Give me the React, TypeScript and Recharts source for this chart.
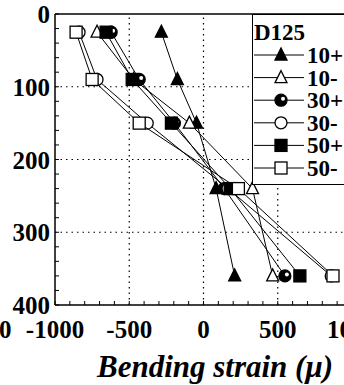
import React from 'react';
import { Legend, ReferenceLine, Scatter, ScatterChart, XAxis, YAxis } from 'recharts';

const DEPTHS = [25, 90, 150, 240, 360];

const STRAIN_10P = [-284, -176, -47, 85, 210];
const STRAIN_10M = [-717, -470, -95, 330, 466];
const STRAIN_30P = [-622, -433, -196, 140, 548];
const STRAIN_30M = [-838, -717, -379, 165, 860];
const STRAIN_50P = [-656, -480, -216, 180, 649];
const STRAIN_50M = [-858, -750, -433, 235, 872];

const SERIES_NAMES = ['10+', '10-', '30+', '30-', '50+', '50-'];
const SERIES_VALUES = [STRAIN_10P, STRAIN_10M, STRAIN_30P, STRAIN_30M, STRAIN_50P, STRAIN_50M];
const MARKERS = ['triFill', 'triOpen', 'halfCircle', 'circleOpen', 'squareFill', 'squareOpen'];

const X_LABELS = [-1000, -500, 0, 500, 1000];
const Y_LABELS = [0, 100, 200, 300, 400];
const X_MINOR = Array.from({ length: 21 }, (_, i) => -1000 + i * 100);
const Y_MINOR = Array.from({ length: 21 }, (_, i) => i * 20);
const X_GRID = [-500, 0, 500];
const Y_GRID = [100, 200, 300];

const FONT = "'Liberation Serif', 'Times New Roman', serif";

const Marker = ({ kind, cx, cy }: { kind: string; cx: number; cy: number }) => {
  const r = 6;
  switch (kind) {
    case 'triFill':
    case 'triOpen':
      return (
        <polygon
          points={`${cx},${cy - r - 1} ${cx - r},${cy + r - 1} ${cx + r},${cy + r - 1}`}
          fill={kind === 'triFill' ? '#000' : '#fff'}
          stroke="#000"
          strokeWidth={1.3}
        />
      );
    case 'halfCircle':
      return (
        <g>
          <circle cx={cx} cy={cy} r={r} fill="#000" stroke="#000" strokeWidth={1.3} />
          <circle cx={cx + 2} cy={cy - 1.5} r={2} fill="#fff" />
        </g>
      );
    case 'circleOpen':
      return <circle cx={cx} cy={cy} r={r} fill="#fff" stroke="#000" strokeWidth={1.3} />;
    case 'squareFill':
    case 'squareOpen':
      return (
        <rect
          x={cx - r}
          y={cy - r}
          width={r * 2}
          height={r * 2}
          fill={kind === 'squareFill' ? '#000' : '#fff'}
          stroke="#000"
          strokeWidth={1.3}
        />
      );
    default:
      return null;
  }
};

const XTick = (props: any) => {
  const { x, y, payload } = props;
  const v = payload.value as number;
  return (
    <g>
      <line x1={x} x2={x} y1={y} y2={y - 4} stroke="#000" strokeWidth={1} />
      {X_LABELS.includes(v) && (
        <text x={x} y={y + 33} textAnchor="middle" fontFamily={FONT} fontWeight="bold" fontSize={25} fill="#000">
          {v}
        </text>
      )}
    </g>
  );
};

const YTick = (props: any) => {
  const { x, y, payload } = props;
  const v = payload.value as number;
  return (
    <g>
      <line x1={x + 5} x2={x + 9} y1={y} y2={y} stroke="#000" strokeWidth={1} />
      {Y_LABELS.includes(v) && (
        <text x={x} y={y} dy="0.36em" textAnchor="end" fontFamily={FONT} fontWeight="bold" fontSize={25} fill="#000">
          {v}
        </text>
      )}
    </g>
  );
};

const LegendBox = () => (
  <div style={{ border: '1.5px solid #000', background: '#fff', width: 120, height: 171, boxSizing: 'border-box' }}>
    <svg width={118} height={168} style={{ display: 'block' }}>
      <text x={1} y={25} fontFamily={FONT} fontWeight="bold" fontSize={23} fill="#000">
        D125
      </text>
      {SERIES_NAMES.map((name, i) => {
        const cy = 40 + i * 22.6;
        return (
          <g key={name}>
            <line x1={1} x2={51} y1={cy} y2={cy} stroke="#000" strokeWidth={1} />
            <Marker kind={MARKERS[i]} cx={28} cy={cy} />
            <text x={54} y={cy + 8} fontFamily={FONT} fontWeight="bold" fontSize={23} fill="#000">
              {name}
            </text>
          </g>
        );
      })}
    </svg>
  </div>
);

export default function App() {
  const seriesData = SERIES_VALUES.map((values) => values.map((v, i) => ({ x: v, y: DEPTHS[i] })));

  return (
    <div style={{ position: 'fixed', left: 0, top: 0, width: 344, height: 385, overflow: 'hidden', background: '#fff' }}>
      <ScatterChart width={370} height={385} margin={{ top: 14, right: 18, bottom: 30, left: 0 }}>
        {X_GRID.map((v) => (
          <ReferenceLine key={`gx${v}`} x={v} stroke="#000" strokeDasharray="1.5 4" strokeWidth={1.2} />
        ))}
        {Y_GRID.map((v) => (
          <ReferenceLine key={`gy${v}`} y={v} stroke="#000" strokeDasharray="1.5 4" strokeWidth={1.2} />
        ))}
        <ReferenceLine y={0} stroke="#000" strokeWidth={1.5} />
        <ReferenceLine x={1000} stroke="#000" strokeWidth={1.5} />
        <XAxis
          type="number"
          dataKey="x"
          domain={[-1000, 1000]}
          ticks={X_MINOR}
          interval={0}
          height={50}
          tickSize={0}
          tickMargin={0}
          tickLine={false}
          tick={XTick}
          axisLine={{ stroke: '#000', strokeWidth: 1.5 }}
          allowDataOverflow
        />
        <YAxis
          type="number"
          dataKey="y"
          domain={[0, 400]}
          reversed
          ticks={Y_MINOR}
          interval={0}
          width={55}
          tickSize={0}
          tickMargin={5}
          tickLine={false}
          tick={YTick}
          axisLine={{ stroke: '#000', strokeWidth: 1.5 }}
          allowDataOverflow
        />
        <Legend
          content={LegendBox}
          layout="vertical"
          align="center"
          verticalAlign="middle"
          wrapperStyle={{ position: 'absolute', left: 252, top: 14, width: 120, height: 171 }}
        />
        {seriesData.map((data, i) => (
          <Scatter
            key={SERIES_NAMES[i]}
            name={SERIES_NAMES[i]}
            data={data}
            line={{ stroke: '#000', strokeWidth: 1 }}
            shape={(p: any) => <Marker kind={MARKERS[i]} cx={p.cx} cy={p.cy} />}
            isAnimationActive={false}
          />
        ))}
      </ScatterChart>
      <svg width={344} height={385} style={{ position: 'absolute', left: 0, top: 0, pointerEvents: 'none' }}>
        <text x={-1} y={338} fontFamily={FONT} fontWeight="bold" fontSize={25} fill="#000">
          0
        </text>
        <text
          x={215}
          y={377}
          textAnchor="middle"
          fontFamily={FONT}
          fontWeight="bold"
          fontStyle="italic"
          fontSize={31}
          fill="#000"
        >
          Bending strain (μ)
        </text>
      </svg>
    </div>
  );
}
